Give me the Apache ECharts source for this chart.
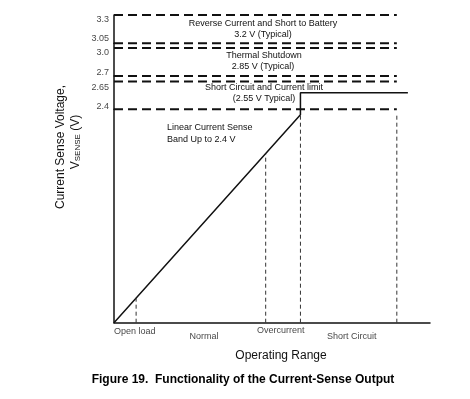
<!DOCTYPE html>
<html>
<head>
<meta charset="utf-8">
<title>Current-Sense Output</title>
<style>
  html, body { margin: 0; padding: 0; background: #fff; }
  #chart { width: 470px; height: 399px; }
</style>
</head>
<body>
<div id="chart"></div>
<script src="https://cdn.jsdelivr.net/npm/echarts@6/dist/echarts.min.js"></script>
<script>
// threshold levels (V) and their tick texts
const levels = [3.3, 3.05, 3.0, 2.7, 2.65, 2.4];
const levelLabels = ['3.3', '3.05', '3.0', '2.7', '2.65', '2.4'];
const levelEnd = 89.5;            // dashed levels stop at the short-circuit marker

// the voltage axis is a schematic, drawn as stacked linear bands
const bandBreaks = [0, 2.4, 2.7, 3.05, 3.3];

// sense voltage curve, split at 2.4 V between bands
const lowerSolid = [[0, 0], [59, 2.34], [59, 2.4]];
const upperSolid = [[59, 2.4], [59, 2.55], [93, 2.55]];

// vertical dashed markers (operating range units / top in V)
const markX = [7, 48, 59, 89.5];
const markTop = [0.28, 1.9, 2.34, 2.34];

// zone names under the axis
const zones = ['Open load', 'Normal', 'Overcurrent', 'Short Circuit'];
const zoneX = [6.6, 28.5, 52.8, 75.2];

const font = 'Liberation Sans, Arial, sans-serif';
const ink = '#111';
const labelShift = [5, -5, 5, -3, 6, -3];
const zoneGap = [4, 9, 3, 9];
// pixel edges of the bands, bottom to top
const bandEdges = [322.7, 109.3, 76, 43.3, 15];

const bandOf = v => {
    for (let i = 0; i < bandBreaks.length - 1; i++) {
        if (v >= bandBreaks[i] && v < bandBreaks[i + 1]) return i;
    }
    return bandBreaks.length - 2;
};

const chart = echarts.init(document.getElementById('chart'), null, { renderer: 'canvas' });

const series = [];

levels.forEach((v, i) => {
    const b = bandOf(v);
    series.push({
        type: 'line', xAxisIndex: b, yAxisIndex: b, clip: false,
        symbol: 'none', silent: true,
        lineStyle: { color: ink, width: 2, type: [9, 5] },
        data: [[0, v], [levelEnd, v]]
    });
    series.push({
        type: 'scatter', xAxisIndex: b, yAxisIndex: b, symbolSize: 0, silent: true, clip: false,
        data: [{
            value: [0, v],
            label: {
                show: true, position: 'left', distance: 5,
                offset: [0, labelShift[i]],
                formatter: levelLabels[i],
                fontFamily: font, fontSize: 9, color: ink
            }
        }]
    });
});

series.push({
    type: 'line', xAxisIndex: 0, yAxisIndex: 0, clip: false, symbol: 'none', silent: true,
    lineStyle: { color: ink, width: 1.5 }, data: lowerSolid
});
series.push({
    type: 'line', xAxisIndex: 1, yAxisIndex: 1, clip: false, symbol: 'none', silent: true,
    lineStyle: { color: ink, width: 1.5 }, data: upperSolid
});

markX.forEach((x, i) => {
    series.push({
        type: 'line', xAxisIndex: 0, yAxisIndex: 0, clip: false, symbol: 'none', silent: true,
        lineStyle: { color: '#333', width: 1, type: [4, 3] },
        data: [[x, 0], [x, markTop[i]]]
    });
});

series.push({
    type: 'scatter', xAxisIndex: 0, yAxisIndex: 0, symbolSize: 0, silent: true,
    data: zones.map((z, i) => ({
        value: [zoneX[i], 0],
        label: {
            show: true, position: 'bottom', distance: zoneGap[i],
            formatter: z, fontFamily: font, fontSize: 9, color: ink
        }
    }))
});

const off = { show: false };
const plainLine = { show: true, lineStyle: { color: ink, width: 1.5 } };

const grids = [], xAxes = [], yAxes = [];
for (let i = 0; i < bandBreaks.length - 1; i++) {
    grids.push({ left: 114, width: 316, top: bandEdges[i + 1], height: bandEdges[i] - bandEdges[i + 1] });
    xAxes.push({
        gridIndex: i, type: 'value', min: 0, max: 100, show: i === 0,
        axisLine: plainLine, axisTick: off, axisLabel: off, splitLine: off
    });
    yAxes.push({
        gridIndex: i, type: 'value', min: bandBreaks[i], max: bandBreaks[i + 1],
        axisLine: plainLine, axisTick: off, axisLabel: off, splitLine: off
    });
}

const note = (text, x, y, align) => ({
    type: 'text', x: x, y: y, silent: true,
    style: {
        text: text, fill: ink, font: '9px ' + font,
        textAlign: align || 'center', verticalAlign: 'middle'
    }
});

chart.setOption({
    animation: false,
    backgroundColor: '#fff',
    grid: grids,
    xAxis: xAxes,
    yAxis: yAxes,
    graphic: [
        note('Reverse Current and Short to Battery', 263, 24),
        note('3.2 V (Typical)', 263, 35),
        note('Thermal Shutdown', 264, 56),
        note('2.85 V (Typical)', 263, 67),
        note('Short Circuit and Current limit', 264, 88),
        note('(2.55 V Typical)', 264, 99),
        note('Linear Current Sense', 167, 128, 'left'),
        note('Band Up to 2.4 V', 167, 140, 'left'),
        {
            type: 'text', x: 281, y: 356, silent: true,
            style: { text: 'Operating Range', fill: ink, font: '12px ' + font, textAlign: 'center', verticalAlign: 'middle' }
        },
        {
            type: 'text', x: 243, y: 380, silent: true,
            style: { text: 'Figure 19.  Functionality of the Current-Sense Output', fill: '#000', font: 'bold 12px ' + font, textAlign: 'center', verticalAlign: 'middle' }
        },
        {
            type: 'text', x: 61, y: 147, rotation: Math.PI / 2, silent: true,
            style: { text: 'Current Sense Voltage,', fill: ink, font: '12px ' + font, textAlign: 'center', verticalAlign: 'middle' }
        },
        {
            type: 'text', x: 76, y: 142, rotation: Math.PI / 2, silent: true,
            style: {
                text: 'V{sub|SENSE} (V)', fill: ink, font: '12px ' + font,
                textAlign: 'center', verticalAlign: 'middle',
                rich: {
                    sub: { fontSize: 8, fontFamily: font, fill: ink, padding: [4, 0, 0, 0] }
                }
            }
        }
    ],
    series: series
});
</script>
</body>
</html>
